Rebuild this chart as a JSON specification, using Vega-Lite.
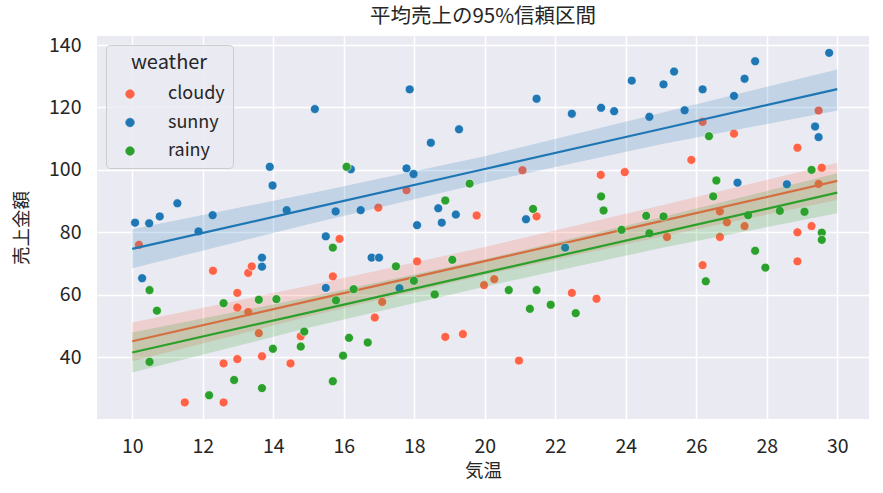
{
  "$schema": "https://vega.github.io/schema/vega-lite/v6.json",
  "autosize": "none",
  "width": 772,
  "height": 383,
  "padding": {"left": 97, "top": 36, "right": 14, "bottom": 74},
  "background": "white",
  "title": {"text": "平均売上の95%信頼区間", "font": "Noto Sans CJK JP", "fontSize": 20.5, "fontWeight": "normal", "color": "#262626", "offset": 8},
  "config": {
    "view": {"fill": "#EAEAF2", "stroke": null},
    "axis": {"domain": false, "ticks": false, "gridColor": "white", "gridWidth": 1.5, "labelFont": "Noto Sans CJK JP", "labelFontSize": 19.5, "labelColor": "#262626", "titleFont": "Noto Sans CJK JP", "titleFontSize": 18.5, "titleFontWeight": "normal", "titleColor": "#262626"}
  },
  "datasets": {
    "pts": [
      {"weather": "sunny", "temp": 10.08, "sales": 83.1},
      {"weather": "sunny", "temp": 10.48, "sales": 82.9},
      {"weather": "sunny", "temp": 10.78, "sales": 85.1},
      {"weather": "sunny", "temp": 11.28, "sales": 89.3},
      {"weather": "sunny", "temp": 12.28, "sales": 85.5},
      {"weather": "sunny", "temp": 11.88, "sales": 80.3},
      {"weather": "sunny", "temp": 10.28, "sales": 65.3},
      {"weather": "sunny", "temp": 13.68, "sales": 71.9},
      {"weather": "sunny", "temp": 13.68, "sales": 69.0},
      {"weather": "sunny", "temp": 13.9, "sales": 101.0},
      {"weather": "sunny", "temp": 13.98, "sales": 95.0},
      {"weather": "sunny", "temp": 14.38, "sales": 87.1},
      {"weather": "sunny", "temp": 15.18, "sales": 119.5},
      {"weather": "sunny", "temp": 15.49, "sales": 78.7},
      {"weather": "sunny", "temp": 15.49, "sales": 62.2},
      {"weather": "sunny", "temp": 15.77, "sales": 86.7},
      {"weather": "sunny", "temp": 16.2, "sales": 100.2},
      {"weather": "sunny", "temp": 16.48, "sales": 87.1},
      {"weather": "sunny", "temp": 16.79, "sales": 71.9},
      {"weather": "sunny", "temp": 17.0, "sales": 71.9},
      {"weather": "sunny", "temp": 17.58, "sales": 62.1},
      {"weather": "sunny", "temp": 17.78, "sales": 100.5},
      {"weather": "sunny", "temp": 17.87, "sales": 125.8},
      {"weather": "sunny", "temp": 17.98, "sales": 98.7},
      {"weather": "sunny", "temp": 18.08, "sales": 82.3},
      {"weather": "sunny", "temp": 18.47, "sales": 108.7},
      {"weather": "sunny", "temp": 18.68, "sales": 87.7},
      {"weather": "sunny", "temp": 18.78, "sales": 83.1},
      {"weather": "sunny", "temp": 19.18, "sales": 85.7},
      {"weather": "sunny", "temp": 19.27, "sales": 113.0},
      {"weather": "sunny", "temp": 21.17, "sales": 84.2},
      {"weather": "sunny", "temp": 21.47, "sales": 122.8},
      {"weather": "sunny", "temp": 22.28, "sales": 75.1},
      {"weather": "sunny", "temp": 22.47, "sales": 118.0},
      {"weather": "sunny", "temp": 23.3, "sales": 119.9},
      {"weather": "sunny", "temp": 23.67, "sales": 118.8},
      {"weather": "sunny", "temp": 24.17, "sales": 128.6},
      {"weather": "sunny", "temp": 24.67, "sales": 117.0},
      {"weather": "sunny", "temp": 25.07, "sales": 127.4},
      {"weather": "sunny", "temp": 25.37, "sales": 131.5},
      {"weather": "sunny", "temp": 25.67, "sales": 119.1},
      {"weather": "sunny", "temp": 26.18, "sales": 125.8},
      {"weather": "sunny", "temp": 27.07, "sales": 123.7},
      {"weather": "sunny", "temp": 27.17, "sales": 95.9},
      {"weather": "sunny", "temp": 27.37, "sales": 129.2},
      {"weather": "sunny", "temp": 27.67, "sales": 134.8},
      {"weather": "sunny", "temp": 28.57, "sales": 95.4},
      {"weather": "sunny", "temp": 29.37, "sales": 113.9},
      {"weather": "sunny", "temp": 29.47, "sales": 110.5},
      {"weather": "sunny", "temp": 29.77, "sales": 137.5},
      {"weather": "cloudy", "temp": 10.19, "sales": 76.0},
      {"weather": "cloudy", "temp": 11.49, "sales": 25.5},
      {"weather": "cloudy", "temp": 12.29, "sales": 67.7},
      {"weather": "cloudy", "temp": 12.59, "sales": 38.0},
      {"weather": "cloudy", "temp": 12.59, "sales": 25.5},
      {"weather": "cloudy", "temp": 12.98, "sales": 60.6},
      {"weather": "cloudy", "temp": 12.98, "sales": 55.9},
      {"weather": "cloudy", "temp": 12.98, "sales": 39.4},
      {"weather": "cloudy", "temp": 13.29, "sales": 67.0},
      {"weather": "cloudy", "temp": 13.39, "sales": 69.1},
      {"weather": "cloudy", "temp": 13.29, "sales": 54.5},
      {"weather": "cloudy", "temp": 13.59, "sales": 47.7},
      {"weather": "cloudy", "temp": 13.68, "sales": 40.3},
      {"weather": "cloudy", "temp": 14.49, "sales": 38.0},
      {"weather": "cloudy", "temp": 14.78, "sales": 46.7},
      {"weather": "cloudy", "temp": 15.88, "sales": 77.9},
      {"weather": "cloudy", "temp": 15.69, "sales": 65.9},
      {"weather": "cloudy", "temp": 16.88, "sales": 52.7},
      {"weather": "cloudy", "temp": 16.98, "sales": 87.9},
      {"weather": "cloudy", "temp": 17.09, "sales": 57.7},
      {"weather": "cloudy", "temp": 17.78, "sales": 93.5},
      {"weather": "cloudy", "temp": 18.08, "sales": 70.7},
      {"weather": "cloudy", "temp": 18.88, "sales": 46.5},
      {"weather": "cloudy", "temp": 19.38, "sales": 47.4},
      {"weather": "cloudy", "temp": 19.77, "sales": 85.4},
      {"weather": "cloudy", "temp": 19.98, "sales": 63.1},
      {"weather": "cloudy", "temp": 20.27, "sales": 65.0},
      {"weather": "cloudy", "temp": 20.97, "sales": 38.9},
      {"weather": "cloudy", "temp": 21.07, "sales": 99.9},
      {"weather": "cloudy", "temp": 21.47, "sales": 85.1},
      {"weather": "cloudy", "temp": 22.47, "sales": 60.6},
      {"weather": "cloudy", "temp": 23.17, "sales": 58.7},
      {"weather": "cloudy", "temp": 23.29, "sales": 98.4},
      {"weather": "cloudy", "temp": 23.97, "sales": 99.3},
      {"weather": "cloudy", "temp": 25.17, "sales": 78.5},
      {"weather": "cloudy", "temp": 25.86, "sales": 103.2},
      {"weather": "cloudy", "temp": 26.18, "sales": 115.4},
      {"weather": "cloudy", "temp": 26.18, "sales": 69.5},
      {"weather": "cloudy", "temp": 26.67, "sales": 86.7},
      {"weather": "cloudy", "temp": 26.67, "sales": 78.5},
      {"weather": "cloudy", "temp": 26.87, "sales": 83.2},
      {"weather": "cloudy", "temp": 27.07, "sales": 111.6},
      {"weather": "cloudy", "temp": 27.37, "sales": 82.0},
      {"weather": "cloudy", "temp": 28.87, "sales": 107.1},
      {"weather": "cloudy", "temp": 28.87, "sales": 80.0},
      {"weather": "cloudy", "temp": 28.87, "sales": 70.7},
      {"weather": "cloudy", "temp": 29.27, "sales": 82.0},
      {"weather": "cloudy", "temp": 29.47, "sales": 119.0},
      {"weather": "cloudy", "temp": 29.47, "sales": 95.5},
      {"weather": "cloudy", "temp": 29.56, "sales": 100.7},
      {"weather": "rainy", "temp": 10.49, "sales": 61.5},
      {"weather": "rainy", "temp": 10.7, "sales": 54.9},
      {"weather": "rainy", "temp": 10.49, "sales": 38.5},
      {"weather": "rainy", "temp": 12.59, "sales": 57.3},
      {"weather": "rainy", "temp": 12.89, "sales": 32.7},
      {"weather": "rainy", "temp": 12.18, "sales": 27.8},
      {"weather": "rainy", "temp": 13.59, "sales": 58.4},
      {"weather": "rainy", "temp": 13.68, "sales": 30.1},
      {"weather": "rainy", "temp": 13.99, "sales": 42.7},
      {"weather": "rainy", "temp": 14.09, "sales": 58.6},
      {"weather": "rainy", "temp": 14.88, "sales": 48.2},
      {"weather": "rainy", "temp": 14.78, "sales": 43.4},
      {"weather": "rainy", "temp": 15.69, "sales": 75.1},
      {"weather": "rainy", "temp": 15.78, "sales": 58.2},
      {"weather": "rainy", "temp": 15.98, "sales": 40.5},
      {"weather": "rainy", "temp": 15.69, "sales": 32.3},
      {"weather": "rainy", "temp": 16.15, "sales": 46.2},
      {"weather": "rainy", "temp": 16.08, "sales": 101.0},
      {"weather": "rainy", "temp": 16.28, "sales": 61.8},
      {"weather": "rainy", "temp": 16.68, "sales": 44.7},
      {"weather": "rainy", "temp": 17.48, "sales": 69.1},
      {"weather": "rainy", "temp": 17.99, "sales": 64.5},
      {"weather": "rainy", "temp": 18.58, "sales": 60.1},
      {"weather": "rainy", "temp": 18.88, "sales": 90.2},
      {"weather": "rainy", "temp": 19.08, "sales": 71.2},
      {"weather": "rainy", "temp": 19.57, "sales": 95.6},
      {"weather": "rainy", "temp": 20.68, "sales": 61.5},
      {"weather": "rainy", "temp": 21.28, "sales": 55.5},
      {"weather": "rainy", "temp": 21.37, "sales": 87.5},
      {"weather": "rainy", "temp": 21.47, "sales": 61.5},
      {"weather": "rainy", "temp": 21.87, "sales": 56.8},
      {"weather": "rainy", "temp": 22.58, "sales": 54.1},
      {"weather": "rainy", "temp": 23.3, "sales": 91.5},
      {"weather": "rainy", "temp": 23.37, "sales": 87.0},
      {"weather": "rainy", "temp": 23.88, "sales": 80.8},
      {"weather": "rainy", "temp": 24.58, "sales": 85.3},
      {"weather": "rainy", "temp": 24.67, "sales": 79.7},
      {"weather": "rainy", "temp": 25.07, "sales": 85.1},
      {"weather": "rainy", "temp": 26.27, "sales": 64.3},
      {"weather": "rainy", "temp": 26.36, "sales": 110.8},
      {"weather": "rainy", "temp": 26.48, "sales": 91.5},
      {"weather": "rainy", "temp": 26.57, "sales": 96.6},
      {"weather": "rainy", "temp": 27.47, "sales": 85.5},
      {"weather": "rainy", "temp": 27.67, "sales": 74.1},
      {"weather": "rainy", "temp": 27.96, "sales": 68.7},
      {"weather": "rainy", "temp": 28.37, "sales": 86.9},
      {"weather": "rainy", "temp": 29.07, "sales": 86.6},
      {"weather": "rainy", "temp": 29.27, "sales": 100.0},
      {"weather": "rainy", "temp": 29.56, "sales": 79.9},
      {"weather": "rainy", "temp": 29.56, "sales": 77.6}
    ],
    "fit": [
      {"weather": "cloudy", "temp": 10, "fit": 45.1, "lo": 38.7, "hi": 51.1},
      {"weather": "cloudy", "temp": 15, "fit": 57.95, "lo": 53.0, "hi": 62.9},
      {"weather": "cloudy", "temp": 20, "fit": 70.8, "lo": 66.3, "hi": 75.3},
      {"weather": "cloudy", "temp": 25, "fit": 83.6, "lo": 78.6, "hi": 88.6},
      {"weather": "cloudy", "temp": 30, "fit": 96.5, "lo": 90.4, "hi": 102.3},
      {"weather": "sunny", "temp": 10, "fit": 74.7, "lo": 68.5, "hi": 81.0},
      {"weather": "sunny", "temp": 15, "fit": 87.5, "lo": 82.6, "hi": 92.4},
      {"weather": "sunny", "temp": 20, "fit": 100.3, "lo": 96.0, "hi": 104.4},
      {"weather": "sunny", "temp": 25, "fit": 113.1, "lo": 108.2, "hi": 118.2},
      {"weather": "sunny", "temp": 30, "fit": 125.9, "lo": 119.0, "hi": 132.2},
      {"weather": "rainy", "temp": 10, "fit": 41.5, "lo": 35.1, "hi": 47.9},
      {"weather": "rainy", "temp": 15, "fit": 54.3, "lo": 49.4, "hi": 59.2},
      {"weather": "rainy", "temp": 20, "fit": 67.1, "lo": 62.6, "hi": 71.4},
      {"weather": "rainy", "temp": 25, "fit": 79.9, "lo": 75.0, "hi": 84.8},
      {"weather": "rainy", "temp": 30, "fit": 92.7, "lo": 86.1, "hi": 98.9}
    ]
  },
  "encoding": {
    "x": {"field": "temp", "type": "quantitative", "scale": {"domain": [9.0, 30.9], "nice": false, "zero": false}, "axis": {"title": "気温", "values": [10, 12, 14, 16, 18, 20, 22, 24, 26, 28, 30], "labelPadding": 18, "titlePadding": 6}},
    "color": {"field": "weather", "type": "nominal", "scale": {"domain": ["cloudy", "sunny", "rainy"], "range": ["#FF6347", "#1f77b4", "#2ca02c"]}, "legend": null}
  },
  "layer": [
    {"data": {"name": "pts"}, "transform": [{"filter": "datum.weather === 'cloudy'"}],
     "mark": {"type": "point", "filled": true, "size": 80, "stroke": "white", "strokeWidth": 0.6, "opacity": 1},
     "encoding": {
       "y": {"field": "sales", "type": "quantitative", "scale": {"domain": [20.2, 142.9], "nice": false, "zero": false}, "axis": {"title": "売上金額", "values": [40, 60, 80, 100, 120, 140], "labelPadding": 16, "titlePadding": 17}},
       "color": {"field": "weather", "type": "nominal", "scale": {"domain": ["cloudy", "sunny", "rainy"], "range": ["#FF6347", "#1f77b4", "#2ca02c"]},
         "legend": {"title": "weather", "orient": "none", "legendX": 9, "legendY": 9, "titleFont": "Noto Sans CJK JP", "titleFontSize": 20, "titleFontWeight": "normal", "titleColor": "#262626", "titleAnchor": "middle", "titlePadding": 12, "labelFont": "Noto Sans CJK JP", "labelFontSize": 18, "labelColor": "#262626", "symbolType": "circle", "symbolSize": 75, "symbolStrokeColor": "white", "symbolStrokeWidth": 0.6, "fillColor": "rgba(234,234,242,0.8)", "strokeColor": "#cccccc", "cornerRadius": 4, "padding": 8, "rowPadding": 10.5, "labelOffset": 29, "symbolOffset": 7}}
     }},
    {"data": {"name": "fit"}, "transform": [{"filter": "datum.weather === 'cloudy'"}],
     "mark": {"type": "line", "strokeWidth": 2.2},
     "encoding": {"y": {"field": "fit", "type": "quantitative"}}},
    {"data": {"name": "fit"}, "transform": [{"filter": "datum.weather === 'cloudy'"}],
     "mark": {"type": "area", "opacity": 0.2},
     "encoding": {"y": {"field": "lo", "type": "quantitative"}, "y2": {"field": "hi"}}},
    {"data": {"name": "pts"}, "transform": [{"filter": "datum.weather === 'sunny'"}],
     "mark": {"type": "point", "filled": true, "size": 80, "stroke": "white", "strokeWidth": 0.6, "opacity": 1},
     "encoding": {"y": {"field": "sales", "type": "quantitative"}}},
    {"data": {"name": "fit"}, "transform": [{"filter": "datum.weather === 'sunny'"}],
     "mark": {"type": "line", "strokeWidth": 2.2},
     "encoding": {"y": {"field": "fit", "type": "quantitative"}}},
    {"data": {"name": "fit"}, "transform": [{"filter": "datum.weather === 'sunny'"}],
     "mark": {"type": "area", "opacity": 0.2},
     "encoding": {"y": {"field": "lo", "type": "quantitative"}, "y2": {"field": "hi"}}},
    {"data": {"name": "pts"}, "transform": [{"filter": "datum.weather === 'rainy'"}],
     "mark": {"type": "point", "filled": true, "size": 80, "stroke": "white", "strokeWidth": 0.6, "opacity": 1},
     "encoding": {"y": {"field": "sales", "type": "quantitative"}}},
    {"data": {"name": "fit"}, "transform": [{"filter": "datum.weather === 'rainy'"}],
     "mark": {"type": "line", "strokeWidth": 2.2},
     "encoding": {"y": {"field": "fit", "type": "quantitative"}}},
    {"data": {"name": "fit"}, "transform": [{"filter": "datum.weather === 'rainy'"}],
     "mark": {"type": "area", "opacity": 0.2},
     "encoding": {"y": {"field": "lo", "type": "quantitative"}, "y2": {"field": "hi"}}}
  ]
}
